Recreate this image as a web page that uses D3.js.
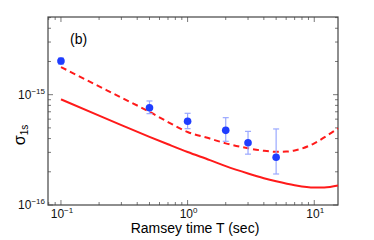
<!DOCTYPE html>
<head>
    <meta charset="utf-8">
    <script src="https://d3js.org/d3.v7.min.js"></script>
    <style>
        body {
            margin: 0;
            background: white;
            font-family: "Liberation Sans", Arial, sans-serif;
        }
        .frame {
            fill: none;
            stroke: #444;
            stroke-width: 1.2px;
        }
        .tick-mark {
            stroke: #555;
            stroke-width: 0.8px;
        }
        .tick-label {
            font-size: 12px;
            fill: #111;
        }
    </style>
</head>
<body>
<script>
    // measured points
    var pointT = [0.1, 0.5, 1, 2, 3, 5];
    var pointVal = [2.02e-15, 7.62e-16, 5.74e-16, 4.75e-16, 3.67e-16, 2.71e-16];
    var errHigh = [2.15e-15, 8.77e-16, 6.78e-16, 6.19e-16, 4.65e-16, 4.89e-16];
    var errLow = [1.89e-15, 6.73e-16, 4.92e-16, 3.78e-16, 2.89e-16, 1.91e-16];

    // dashed curve
    var dashT = [0.1, 0.2, 0.3, 0.5, 0.7, 1, 1.5, 2, 3, 4, 5, 6, 7, 10, 12, 15.4];
    var dashVal = [1.78e-15, 1.19e-15, 9.4e-16, 7.0e-16, 5.65e-16, 4.59e-16, 4.0e-16, 3.62e-16, 3.27e-16, 3.1e-16, 3.04e-16, 3.05e-16, 3.12e-16, 3.62e-16, 4.1e-16, 4.96e-16];

    // solid curve
    var solidT = [0.1, 0.2, 0.3, 0.5, 0.7, 1, 1.5, 2, 3, 4, 5, 7, 10, 12, 15.4];
    var solidVal = [9.08e-16, 6.45e-16, 5.3e-16, 4.15e-16, 3.55e-16, 3.02e-16, 2.55e-16, 2.25e-16, 1.93e-16, 1.75e-16, 1.64e-16, 1.51e-16, 1.44e-16, 1.44e-16, 1.5e-16];

    var xTickExp = [-1, 0, 1];
    var yTickExp = [-16, -15];

    var margin = {top: 17, right: 36, bottom: 35, left: 48};
    var width = 374 - margin.left - margin.right,
        height = 240 - margin.top - margin.bottom;

    var svg = d3.select("body").append("svg")
        .attr("width", 374)
        .attr("height", 240)
        .append("g")
        .attr("transform", "translate(" + margin.left + "," + margin.top + ")");

    var x = d3.scaleLog().domain([0.079, 15.4]).range([0, width]);
    var y = d3.scaleLog().domain([1e-16, 5.06e-15]).range([height, 0]);

    // minor + major ticks
    var xMinor = [], yMinor = [];
    [0.01, 0.1, 1, 10].forEach(function(b) {
        for (var k = 1; k < 10; k++) {
            var v = b * k;
            if (v >= x.domain()[0] && v <= x.domain()[1]) xMinor.push({v: v, major: k == 1});
        }
    });
    [1e-16, 1e-15].forEach(function(b) {
        for (var k = 1; k < 10; k++) {
            var v = b * k;
            if (v >= y.domain()[0] && v <= y.domain()[1]) yMinor.push({v: v, major: k == 1});
        }
    });

    var ticks = svg.append("g");
    xMinor.forEach(function(d) {
        var len = d.major ? 5 : 3;
        var px = x(d.v);
        ticks.append("line").attr("class", "tick-mark")
            .attr("x1", px).attr("x2", px).attr("y1", height).attr("y2", height - len);
        ticks.append("line").attr("class", "tick-mark")
            .attr("x1", px).attr("x2", px).attr("y1", 0).attr("y2", len);
    });
    yMinor.forEach(function(d) {
        var len = d.major ? 5 : 3;
        var py = y(d.v);
        ticks.append("line").attr("class", "tick-mark")
            .attr("x1", 0).attr("x2", len).attr("y1", py).attr("y2", py);
        ticks.append("line").attr("class", "tick-mark")
            .attr("x1", width).attr("x2", width - len).attr("y1", py).attr("y2", py);
    });

    svg.append("rect").attr("class", "frame")
        .attr("x", 0).attr("y", 0)
        .attr("width", width).attr("height", height);

    // tick labels
    xTickExp.forEach(function(e) {
        var t = svg.append("text").attr("class", "tick-label")
            .attr("x", x(Math.pow(10, e)) + 1)
            .attr("y", height + 13)
            .attr("text-anchor", "middle");
        t.append("tspan").text("10");
        t.append("tspan").attr("dy", -5).style("font-size", "8px").text(e < 0 ? "\u2212" + (-e) : e);
    });
    yTickExp.forEach(function(e) {
        var t = svg.append("text").attr("class", "tick-label")
            .attr("x", -3)
            .attr("y", y(Math.pow(10, e)) + 4)
            .attr("text-anchor", "end");
        t.append("tspan").text("10");
        t.append("tspan").attr("dy", -5).style("font-size", "8px").text("\u2212" + (-e));
    });

    // axis titles
    svg.append("text")
        .attr("x", width / 2 + 2)
        .attr("y", height + 28)
        .attr("text-anchor", "middle")
        .style("font-size", "14px")
        .text("Ramsey time T (sec)");

    var yl = svg.append("text")
        .attr("transform", "translate(-23," + (height / 2 + 24) + ") rotate(-90)")
        .attr("text-anchor", "middle")
        .style("font-size", "16px");
    yl.append("tspan").text("\u03c3");
    yl.append("tspan").attr("dy", 3).style("font-size", "10px").text("1s");

    svg.append("text")
        .attr("x", 22).attr("y", 27)
        .style("font-size", "14px")
        .text("(b)");

    // curves
    var line = d3.line()
        .x(function(d) { return x(d[0]); })
        .y(function(d) { return y(d[1]); })
        .curve(d3.curveMonotoneX);

    svg.append("path")
        .datum(solidT.map(function(t, i) { return [t, solidVal[i]]; }))
        .attr("d", line)
        .attr("fill", "none")
        .attr("stroke", "#ff1a1a")
        .attr("stroke-width", 2);

    svg.append("path")
        .datum(dashT.map(function(t, i) { return [t, dashVal[i]]; }))
        .attr("d", line)
        .attr("fill", "none")
        .attr("stroke", "#ff1a1a")
        .attr("stroke-width", 2)
        .attr("stroke-dasharray", "6,4");

    // error bars
    var pts = pointT.map(function(t, i) {
        return {t: t, v: pointVal[i], hi: errHigh[i], lo: errLow[i]};
    });
    var eb = svg.append("g").attr("stroke", "#9aa8ff").attr("stroke-width", 1.2);
    eb.selectAll(".v").data(pts).enter().append("line")
        .attr("x1", function(d) { return x(d.t); })
        .attr("x2", function(d) { return x(d.t); })
        .attr("y1", function(d) { return y(d.hi); })
        .attr("y2", function(d) { return y(d.lo); });
    ["hi", "lo"].forEach(function(k) {
        eb.selectAll(".c" + k).data(pts).enter().append("line")
            .attr("x1", function(d) { return x(d.t) - 3; })
            .attr("x2", function(d) { return x(d.t) + 3; })
            .attr("y1", function(d) { return y(d[k]); })
            .attr("y2", function(d) { return y(d[k]); });
    });

    svg.append("g").selectAll("circle")
        .data(pts)
        .enter().append("circle")
        .attr("cx", function(d) { return x(d.t); })
        .attr("cy", function(d) { return y(d.v); })
        .attr("r", 3.8)
        .attr("fill", "#1f3dff");
</script>
</body>
</html>
